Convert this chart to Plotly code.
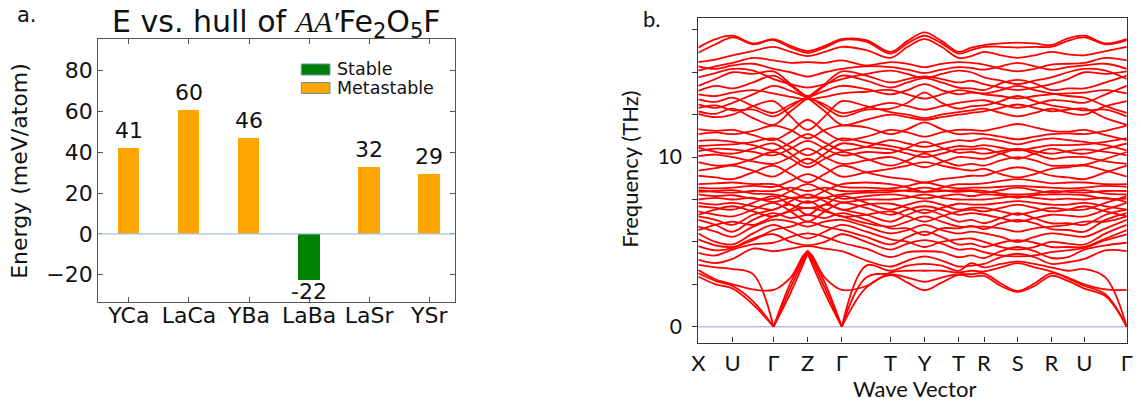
import plotly.graph_objects as go

W, H = 1141, 402

# ---------------- Panel a: energy above hull ----------------
compounds = ["YCa", "LaCa", "YBa", "LaBa", "LaSr", "YSr"]
e_hull = [41.8, 60.7, 46.7, -22.6, 32.6, 29.3]
e_labels = ["41", "60", "46", "-22", "32", "29"]
stability = ["Metastable", "Metastable", "Metastable", "Stable", "Metastable", "Metastable"]
stab_colors = {"Stable": "#008000", "Metastable": "#FFA500"}
energy_ticks = [-20, 0, 20, 40, 60, 80]

# ---------------- Panel b: phonon band structure ----------------
kpoint_labels = ["X", "U", "Γ", "Z", "Γ", "T", "Y", "T", "R", "S", "R", "U", "Γ"]
kpoint_pos = [0, 34.6, 76.0, 110.5, 145.0, 194.3, 228.6, 262.9, 288.7, 322.7, 356.7, 390.2, 433.0]
freq_ticks = [0, 10]
# each band: frequency (THz) at every k-point and at the midpoint of every segment
# X . U . G . Z . G . T . Y . T . R . S . R . U . G
band_01 = [2.96, 2.5, 2.25, 1.3, 0.0, 2.0, 4.3, 2.0, 0.0, 2.3, 3.05, 2.6, 2.15, 2.6, 3.05, 2.95, 3.0, 2.4, 2.05, 2.4, 3.0, 2.7, 2.25, 1.8, 0.0]
band_02 = [3.15, 2.7, 2.4, 1.5, 0.0, 2.3, 4.45, 2.3, 0.0, 2.9, 3.1, 2.9, 2.65, 2.9, 3.1, 3.1, 3.15, 2.55, 2.1, 2.55, 3.15, 2.85, 2.4, 1.9, 0.0]
band_03 = [3.64, 3.5, 3.4, 3.1, 0.0, 2.6, 4.5, 2.6, 0.0, 3.6, 3.3, 3.6, 3.7, 3.6, 3.3, 3.75, 3.5, 3.7, 3.85, 3.7, 3.5, 3.3, 3.4, 2.9, 0.0]
band_04 = [3.34, 2.8, 2.5, 2.2, 2.17, 2.9, 4.4, 2.9, 2.17, 2.4, 3.2, 3.3, 3.3, 3.3, 3.2, 3.3, 3.25, 3.5, 3.75, 3.5, 3.25, 2.9, 2.5, 2.2, 2.17]
band_05 = [3.95, 3.75, 4.0, 4.6, 4.45, 4.6, 4.75, 4.6, 4.45, 3.9, 3.55, 3.9, 4.15, 3.9, 3.55, 3.6, 3.7, 4.1, 4.3, 4.1, 3.7, 3.8, 4.0, 4.5, 4.45]
band_06 = [4.35, 4.2, 4.55, 4.85, 4.95, 5.3, 5.5, 5.3, 4.95, 4.6, 4.1, 4.4, 4.45, 4.4, 4.1, 4.2, 4.05, 4.45, 4.7, 4.45, 4.05, 4.1, 4.55, 4.8, 4.95]
band_07 = [4.75, 4.5, 4.65, 5.2, 5.45, 5.0, 4.8, 5.0, 5.45, 5.0, 4.55, 4.9, 5.1, 4.9, 4.55, 4.6, 4.4, 4.2, 4.15, 4.2, 4.4, 4.5, 4.65, 5.1, 5.45]
band_08 = [5.15, 4.8, 4.7, 5.1, 5.7, 5.9, 6.2, 5.9, 5.7, 5.3, 4.85, 5.3, 5.6, 5.3, 4.85, 4.9, 4.7, 4.95, 5.1, 4.95, 4.7, 4.7, 4.7, 5.2, 5.7]
band_09 = [5.5, 5.0, 4.85, 5.5, 6.0, 5.6, 5.2, 5.6, 6.0, 5.6, 5.15, 5.0, 4.7, 5.0, 5.15, 5.2, 5.0, 4.7, 4.55, 4.7, 5.0, 4.9, 4.85, 5.5, 6.0]
band_10 = [5.9, 5.6, 5.3, 5.9, 6.3, 6.2, 5.9, 6.2, 6.3, 5.9, 5.5, 5.7, 6.0, 5.7, 5.5, 5.6, 5.5, 5.3, 5.0, 5.3, 5.5, 5.4, 5.3, 5.8, 6.3]
band_11 = [5.7, 6.0, 6.2, 6.0, 6.5, 6.8, 7.0, 6.8, 6.5, 6.1, 5.9, 6.2, 6.5, 6.2, 5.9, 5.9, 5.9, 5.8, 5.6, 5.8, 5.9, 6.0, 6.2, 6.2, 6.5]
band_12 = [6.3, 6.0, 5.6, 6.3, 6.7, 6.4, 6.6, 6.4, 6.7, 6.3, 5.8, 5.8, 5.4, 5.8, 5.8, 5.95, 5.75, 6.1, 6.3, 6.1, 5.75, 5.7, 5.6, 6.3, 6.7]
band_13 = [6.5, 6.3, 6.0, 6.6, 6.9, 7.2, 6.6, 7.2, 6.9, 6.6, 6.2, 6.6, 6.9, 6.6, 6.2, 6.3, 6.1, 6.4, 6.7, 6.4, 6.1, 6.1, 6.0, 6.6, 6.9]
band_14 = [6.6, 6.9, 7.1, 6.8, 6.5, 6.9, 7.4, 6.9, 6.5, 6.6, 6.8, 6.5, 6.2, 6.5, 6.8, 6.9, 6.8, 7.0, 7.2, 7.0, 6.8, 6.9, 7.1, 6.8, 6.5]
band_15 = [6.8, 6.6, 6.5, 6.9, 7.3, 6.8, 6.2, 6.8, 7.3, 7.0, 6.6, 6.9, 7.1, 6.9, 6.6, 6.7, 6.6, 6.4, 6.2, 6.4, 6.6, 6.55, 6.5, 6.9, 7.3]
band_16 = [7.1, 7.0, 6.9, 7.3, 7.7, 7.2, 7.0, 7.2, 7.7, 7.3, 6.9, 7.2, 7.4, 7.2, 6.9, 7.0, 7.0, 6.8, 6.6, 6.8, 7.0, 6.9, 6.9, 7.3, 7.7]
band_17 = [7.3, 7.2, 7.3, 7.1, 6.9, 7.4, 7.8, 7.4, 6.9, 7.2, 7.25, 7.0, 6.7, 7.0, 7.25, 7.2, 7.2, 7.3, 7.4, 7.3, 7.2, 7.2, 7.3, 7.1, 6.9]
band_18 = [7.5, 7.6, 7.5, 7.6, 7.35, 7.6, 7.6, 7.6, 7.35, 7.5, 7.5, 7.6, 7.8, 7.6, 7.5, 7.5, 7.5, 7.6, 7.7, 7.6, 7.5, 7.55, 7.5, 7.6, 7.35]
band_19 = [7.8, 7.7, 7.75, 7.55, 7.55, 8.0, 8.4, 8.0, 7.55, 7.7, 7.8, 7.7, 7.55, 7.7, 7.8, 7.7, 7.8, 7.75, 7.6, 7.75, 7.8, 7.8, 7.75, 7.55, 7.55]
band_20 = [7.95, 8.0, 8.05, 7.85, 7.8, 7.6, 7.3, 7.6, 7.8, 7.9, 7.95, 8.05, 8.2, 8.05, 7.95, 8.0, 7.9, 8.05, 8.2, 8.05, 7.9, 8.0, 8.05, 7.85, 7.8]
band_21 = [8.05, 7.95, 7.9, 8.0, 8.0, 8.2, 8.0, 8.2, 8.0, 8.0, 8.05, 8.0, 7.95, 8.0, 8.05, 8.05, 8.0, 7.85, 7.8, 7.85, 8.0, 7.95, 7.9, 8.0, 8.0]
band_22 = [8.2, 8.15, 8.2, 8.3, 8.25, 8.6, 9.0, 8.6, 8.25, 8.2, 8.15, 8.3, 8.5, 8.3, 8.15, 8.2, 8.2, 8.25, 8.3, 8.25, 8.2, 8.15, 8.2, 8.3, 8.25]
band_23 = [8.4, 8.45, 8.5, 8.4, 8.4, 8.0, 7.6, 8.0, 8.4, 8.5, 8.4, 8.2, 7.95, 8.2, 8.4, 8.4, 8.45, 8.6, 8.7, 8.6, 8.45, 8.5, 8.5, 8.4, 8.4]
band_24 = [8.9, 8.8, 8.7, 9.1, 9.5, 9.0, 8.5, 9.0, 9.5, 9.1, 8.8, 8.7, 8.5, 8.7, 8.8, 8.9, 8.9, 9.2, 9.4, 9.2, 8.9, 8.8, 8.7, 9.1, 9.5]
band_25 = [9.2, 9.35, 9.5, 9.2, 8.85, 9.4, 9.9, 9.4, 8.85, 9.1, 9.3, 9.5, 9.7, 9.5, 9.3, 9.2, 9.3, 9.0, 8.8, 9.0, 9.3, 9.4, 9.5, 9.2, 8.85]
band_26 = [9.7, 9.5, 9.55, 9.9, 10.3, 9.9, 9.4, 9.9, 10.3, 9.9, 9.5, 9.8, 10.2, 9.8, 9.5, 9.6, 9.5, 9.8, 10.0, 9.8, 9.5, 9.5, 9.55, 9.9, 10.3]
band_27 = [10.05, 10.15, 10.0, 9.75, 9.6, 10.0, 10.5, 10.0, 9.6, 9.8, 10.0, 9.7, 9.4, 9.7, 10.0, 9.95, 9.9, 10.2, 10.45, 10.2, 9.9, 10.0, 10.0, 9.75, 9.6]
band_28 = [10.35, 10.5, 10.45, 10.3, 10.1, 10.5, 10.95, 10.5, 10.1, 10.3, 10.25, 10.55, 10.9, 10.55, 10.25, 10.3, 10.2, 10.35, 10.5, 10.35, 10.2, 10.35, 10.45, 10.3, 10.1]
band_29 = [10.55, 10.3, 10.2, 10.5, 10.8, 10.2, 9.6, 10.2, 10.8, 10.6, 10.45, 10.2, 10.0, 10.2, 10.45, 10.45, 10.5, 10.2, 9.9, 10.2, 10.5, 10.3, 10.2, 10.5, 10.8]
band_30 = [10.65, 10.7, 10.75, 10.9, 11.1, 10.6, 10.1, 10.6, 11.1, 10.85, 10.65, 10.45, 10.3, 10.45, 10.65, 10.6, 10.7, 10.55, 10.4, 10.55, 10.7, 10.7, 10.75, 10.9, 11.1]
band_31 = [10.95, 11.0, 10.9, 10.7, 10.4, 10.85, 11.35, 10.85, 10.4, 10.6, 11.0, 10.8, 10.6, 10.8, 11.0, 10.95, 11.1, 10.95, 10.75, 10.95, 11.1, 11.0, 10.9, 10.7, 10.4]
band_32 = [11.35, 11.45, 11.35, 11.55, 11.85, 11.6, 11.1, 11.6, 11.85, 11.75, 11.35, 11.65, 12.05, 11.65, 11.35, 11.4, 11.35, 11.2, 11.05, 11.2, 11.35, 11.4, 11.35, 11.55, 11.85]
band_33 = [11.65, 11.55, 11.6, 11.3, 11.0, 11.5, 12.2, 11.5, 11.0, 11.2, 11.6, 11.45, 11.2, 11.45, 11.6, 11.6, 11.55, 11.75, 11.95, 11.75, 11.55, 11.5, 11.6, 11.3, 11.0]
band_34 = [12.7, 12.55, 12.85, 12.3, 11.9, 12.7, 13.5, 14.3, 15.05, 14.8, 14.4, 14.6, 14.75, 14.6, 14.4, 14.5, 14.3, 14.1, 13.95, 14.1, 14.3, 14.6, 15.0, 14.9, 15.05]
band_35 = [14.2, 14.6, 15.0, 14.9, 15.05, 14.3, 13.5, 12.7, 11.9, 12.2, 12.5, 12.35, 12.2, 12.35, 12.5, 12.6, 12.7, 12.9, 13.1, 12.9, 12.7, 12.8, 12.85, 12.3, 11.9]
band_36 = [12.55, 12.35, 12.5, 13.0, 13.3, 12.4, 11.6, 12.4, 13.3, 13.0, 12.65, 12.5, 12.3, 12.5, 12.65, 12.75, 12.85, 12.6, 12.4, 12.6, 12.85, 12.6, 12.5, 13.0, 13.3]
band_37 = [12.9, 13.05, 12.75, 12.8, 12.4, 12.95, 13.5, 12.95, 12.4, 12.8, 12.85, 13.2, 13.8, 13.2, 12.85, 13.0, 13.05, 13.3, 13.6, 13.3, 13.05, 12.9, 12.75, 12.8, 12.4]
band_38 = [13.1, 12.9, 13.2, 13.7, 14.2, 13.9, 13.5, 13.1, 12.6, 12.9, 13.2, 13.0, 12.8, 13.0, 13.2, 13.3, 13.35, 13.1, 12.9, 13.1, 13.35, 13.3, 13.2, 13.7, 14.2]
band_39 = [13.4, 13.25, 13.5, 13.0, 12.6, 13.1, 13.5, 13.9, 14.2, 14.0, 13.7, 13.95, 14.3, 13.95, 13.7, 13.8, 13.75, 13.95, 14.2, 13.95, 13.75, 13.6, 13.5, 13.0, 12.6]
band_40 = [13.7, 13.6, 13.8, 13.95, 13.75, 13.55, 13.4, 13.55, 13.75, 13.85, 13.95, 13.7, 13.45, 13.7, 13.95, 13.85, 13.7, 13.6, 13.45, 13.6, 13.7, 13.75, 13.8, 13.95, 13.75]
band_41 = [13.9, 14.2, 14.05, 14.4, 14.8, 14.2, 13.6, 14.2, 14.8, 14.5, 14.1, 14.4, 14.65, 14.4, 14.1, 14.05, 13.95, 14.35, 14.55, 14.35, 13.95, 14.05, 14.05, 14.4, 14.8]
band_42 = [14.7, 14.95, 15.2, 15.1, 14.6, 14.3, 14.1, 14.3, 14.6, 14.9, 15.1, 14.9, 14.65, 14.9, 15.1, 15.0, 14.7, 14.5, 14.3, 14.5, 14.7, 15.0, 15.2, 15.1, 14.6]
band_43 = [15.1, 15.35, 15.55, 15.85, 15.7, 15.55, 15.6, 15.55, 15.7, 15.4, 15.6, 15.5, 15.3, 15.5, 15.6, 15.55, 15.45, 15.2, 15.05, 15.2, 15.45, 15.5, 15.55, 15.85, 15.7]
band_44 = [15.35, 15.2, 15.4, 15.5, 15.2, 15.0, 14.75, 15.0, 15.2, 15.35, 15.3, 15.15, 14.95, 15.15, 15.3, 15.25, 15.15, 15.35, 15.55, 15.35, 15.15, 15.3, 15.4, 15.5, 15.2]
band_45 = [15.6, 15.75, 16.0, 16.25, 16.5, 16.2, 15.95, 16.2, 16.5, 16.3, 15.85, 16.5, 16.95, 16.5, 15.85, 15.95, 16.2, 16.0, 15.85, 16.0, 16.2, 16.05, 16.0, 16.25, 16.5]
band_46 = [16.15, 16.65, 17.05, 16.65, 16.9, 16.45, 16.15, 16.45, 16.9, 16.8, 16.1, 16.7, 17.15, 16.7, 16.1, 16.3, 16.5, 16.5, 16.45, 16.5, 16.5, 16.85, 17.05, 16.65, 16.9]
band_47 = [16.45, 16.95, 17.15, 16.7, 16.95, 16.55, 16.25, 16.55, 16.95, 16.9, 16.2, 16.85, 17.35, 16.85, 16.2, 16.45, 16.6, 16.7, 16.75, 16.7, 16.6, 17.0, 17.15, 16.7, 16.95]

bands = [band_01, band_02, band_03, band_04, band_05, band_06, band_07, band_08, band_09, band_10,
         band_11, band_12, band_13, band_14, band_15, band_16, band_17, band_18, band_19, band_20,
         band_21, band_22, band_23, band_24, band_25, band_26, band_27, band_28, band_29, band_30,
         band_31, band_32, band_33, band_34, band_35, band_36, band_37, band_38, band_39, band_40,
         band_41, band_42, band_43, band_44, band_45, band_46, band_47]
# acoustic branches are drawn with cusps at these sample indices (Γ, Z, Γ, Γ)
acoustic_cusps = [4, 6, 8, 24]

# sample positions along the path: k-points and segment midpoints
k_samples = []
for s in range(len(kpoint_pos) - 1):
    k_samples += [kpoint_pos[s], (kpoint_pos[s] + kpoint_pos[s + 1]) / 2]
k_samples.append(kpoint_pos[-1])

# ---------------- geometry (paper fractions) ----------------
def px_x(p):
    return p / W

def px_y(p):
    return 1 - p / H

A_X = [px_x(92.3), px_x(453.3)]
A_Y = [px_y(301.7), px_y(39.3)]
B_X = [px_x(699.3), px_x(1132.7)]
B_Y = [px_y(342.5), px_y(18.3)]

FONT_A = "DejaVu Sans"
FONT_B = "Lato"
INK = "#111111"

fig = go.Figure()

fig.add_trace(go.Bar(
    x=list(range(len(compounds))), y=e_hull,
    marker=dict(color=[stab_colors[s] for s in stability], line=dict(width=0)),
    width=0.355, xaxis="x", yaxis="y", showlegend=False, hoverinfo="skip",
))

for band in bands:
    cuts = acoustic_cusps if min(band) == 0 else []
    xs, ys = [], []
    start = 0
    for c in cuts + [len(band) - 1]:
        if c <= start:
            continue
        xs += k_samples[start:c + 1] + [None]
        ys += band[start:c + 1] + [None]
        start = c
    fig.add_trace(go.Scatter(
        x=xs, y=ys, mode="lines", xaxis="x2", yaxis="y2",
        line=dict(color="rgb(255,0,0)", width=1.8, shape="spline", smoothing=1.0),
        showlegend=False, hoverinfo="skip", connectgaps=False,
    ))

annotations = []
for i, (v, lab) in enumerate(zip(e_hull, e_labels)):
    annotations.append(dict(
        x=i, y=v, xref="x", yref="y", text=lab, showarrow=False,
        font=dict(family=FONT_A, size=22, color=INK),
        yanchor="middle", yshift=(18 if v >= 0 else -12),
    ))

annotations.append(dict(
    x=(A_X[0] + A_X[1]) / 2, y=px_y(23), xref="paper", yref="paper",
    text='E vs. hull of <span style="font-family:Liberation Serif"><i>AA′</i></span>Fe<sub>2</sub>O<sub>5</sub>F',
    showarrow=False, font=dict(family=FONT_A, size=30, color=INK),
    xanchor="center", yanchor="middle",
))
annotations.append(dict(
    x=px_x(12), y=px_y(171), xref="paper", yref="paper", text="Energy (meV/atom)",
    textangle=-90, showarrow=False, font=dict(family=FONT_A, size=22, color=INK),
    xanchor="center", yanchor="middle",
))
annotations.append(dict(
    x=px_x(630), y=px_y(169), xref="paper", yref="paper", text="Frequency (THz)",
    textangle=-90, showarrow=False, font=dict(family=FONT_B, size=22, color=INK),
    xanchor="center", yanchor="middle",
))
annotations.append(dict(
    x=px_x(918), y=px_y(388), xref="paper", yref="paper", text="Wave Vector",
    showarrow=False, font=dict(family=FONT_B, size=22, color=INK),
    xanchor="center", yanchor="middle",
))
annotations.append(dict(
    x=px_x(8), y=px_y(15), xref="paper", yref="paper", text="a.",
    showarrow=False, font=dict(family=FONT_A, size=21, color=INK),
    xanchor="left", yanchor="middle",
))
annotations.append(dict(
    x=px_x(641), y=px_y(18), xref="paper", yref="paper", text="b.",
    showarrow=False, font=dict(family=FONT_B, size=22, color=INK),
    xanchor="left", yanchor="middle",
))

legend_items = [("Stable", 64, 75), ("Metastable", 82.5, 93.5)]
shapes = []
for name, top, bot in legend_items:
    shapes.append(dict(
        type="rect", xref="paper", yref="paper",
        x0=px_x(297.7), x1=px_x(326.7), y0=px_y(bot), y1=px_y(top),
        fillcolor=stab_colors[name], line=dict(color="#6d8fae", width=1),
    ))
    annotations.append(dict(
        x=px_x(333), y=px_y((top + bot) / 2), xref="paper", yref="paper", text=name,
        showarrow=False, font=dict(family=FONT_A, size=17.5, color=INK),
        xanchor="left", yanchor="middle", borderpad=0,
    ))

shapes.append(dict(type="line", xref="x domain", yref="y", x0=0, x1=1, y0=0, y1=0,
                   line=dict(color="#9fc4e6", width=1.3), layer="above"))
shapes.append(dict(type="line", xref="x2 domain", yref="y2", x0=0, x1=1, y0=0, y1=0,
                   line=dict(color="#b8b8fa", width=1.5), layer="below"))

fig.update_layout(
    width=W, height=H, margin=dict(l=0, r=0, t=0, b=0),
    paper_bgcolor="white", plot_bgcolor="white",
    annotations=annotations, shapes=shapes, bargap=0,
    xaxis=dict(
        domain=A_X, anchor="y", range=[-0.51, 5.43],
        tickvals=list(range(len(compounds))), ticktext=compounds,
        ticks="inside", ticklen=5, tickcolor="#555", showline=True, linecolor="#555",
        linewidth=1.2, mirror="ticks", showgrid=False, zeroline=False,
        tickfont=dict(family=FONT_A, size=22, color=INK), ticklabelstandoff=-6,
    ),
    yaxis=dict(
        domain=A_Y, anchor="x", range=[-33.3, 95.4],
        tickvals=energy_ticks,
        ticktext=[("−" + str(-t)) if t < 0 else str(t) for t in energy_ticks],
        ticks="inside", ticklen=5, tickcolor="#555", showline=True, linecolor="#555",
        linewidth=1.2, mirror="ticks", showgrid=False, zeroline=False,
        tickfont=dict(family=FONT_A, size=22, color=INK),
    ),
    xaxis2=dict(
        domain=B_X, anchor="y2", range=[kpoint_pos[0], kpoint_pos[-1]],
        tickvals=kpoint_pos, ticktext=kpoint_labels,
        ticks="inside", ticklen=5, tickcolor="#333", showline=True, linecolor="#333",
        linewidth=1.2, mirror=True, showgrid=False, zeroline=False,
        tickfont=dict(family=FONT_B, size=22, color=INK), ticklabelstandoff=1,
    ),
    yaxis2=dict(
        domain=B_Y, anchor="x2", range=[-0.93, 18.18],
        tickvals=freq_ticks, ticktext=[str(t) for t in freq_ticks],
        ticks="outside", ticklen=5, tickcolor="#333", showline=True, linecolor="#333",
        linewidth=1.2, mirror=True, showgrid=False, zeroline=False,
        minor=dict(ticks="outside", ticklen=5, dtick=2.5, tick0=0, tickcolor="#333"),
        tickfont=dict(family=FONT_B, size=21, color=INK), ticklabelstandoff=6,
    ),
)

fig.write_html("out.html")
